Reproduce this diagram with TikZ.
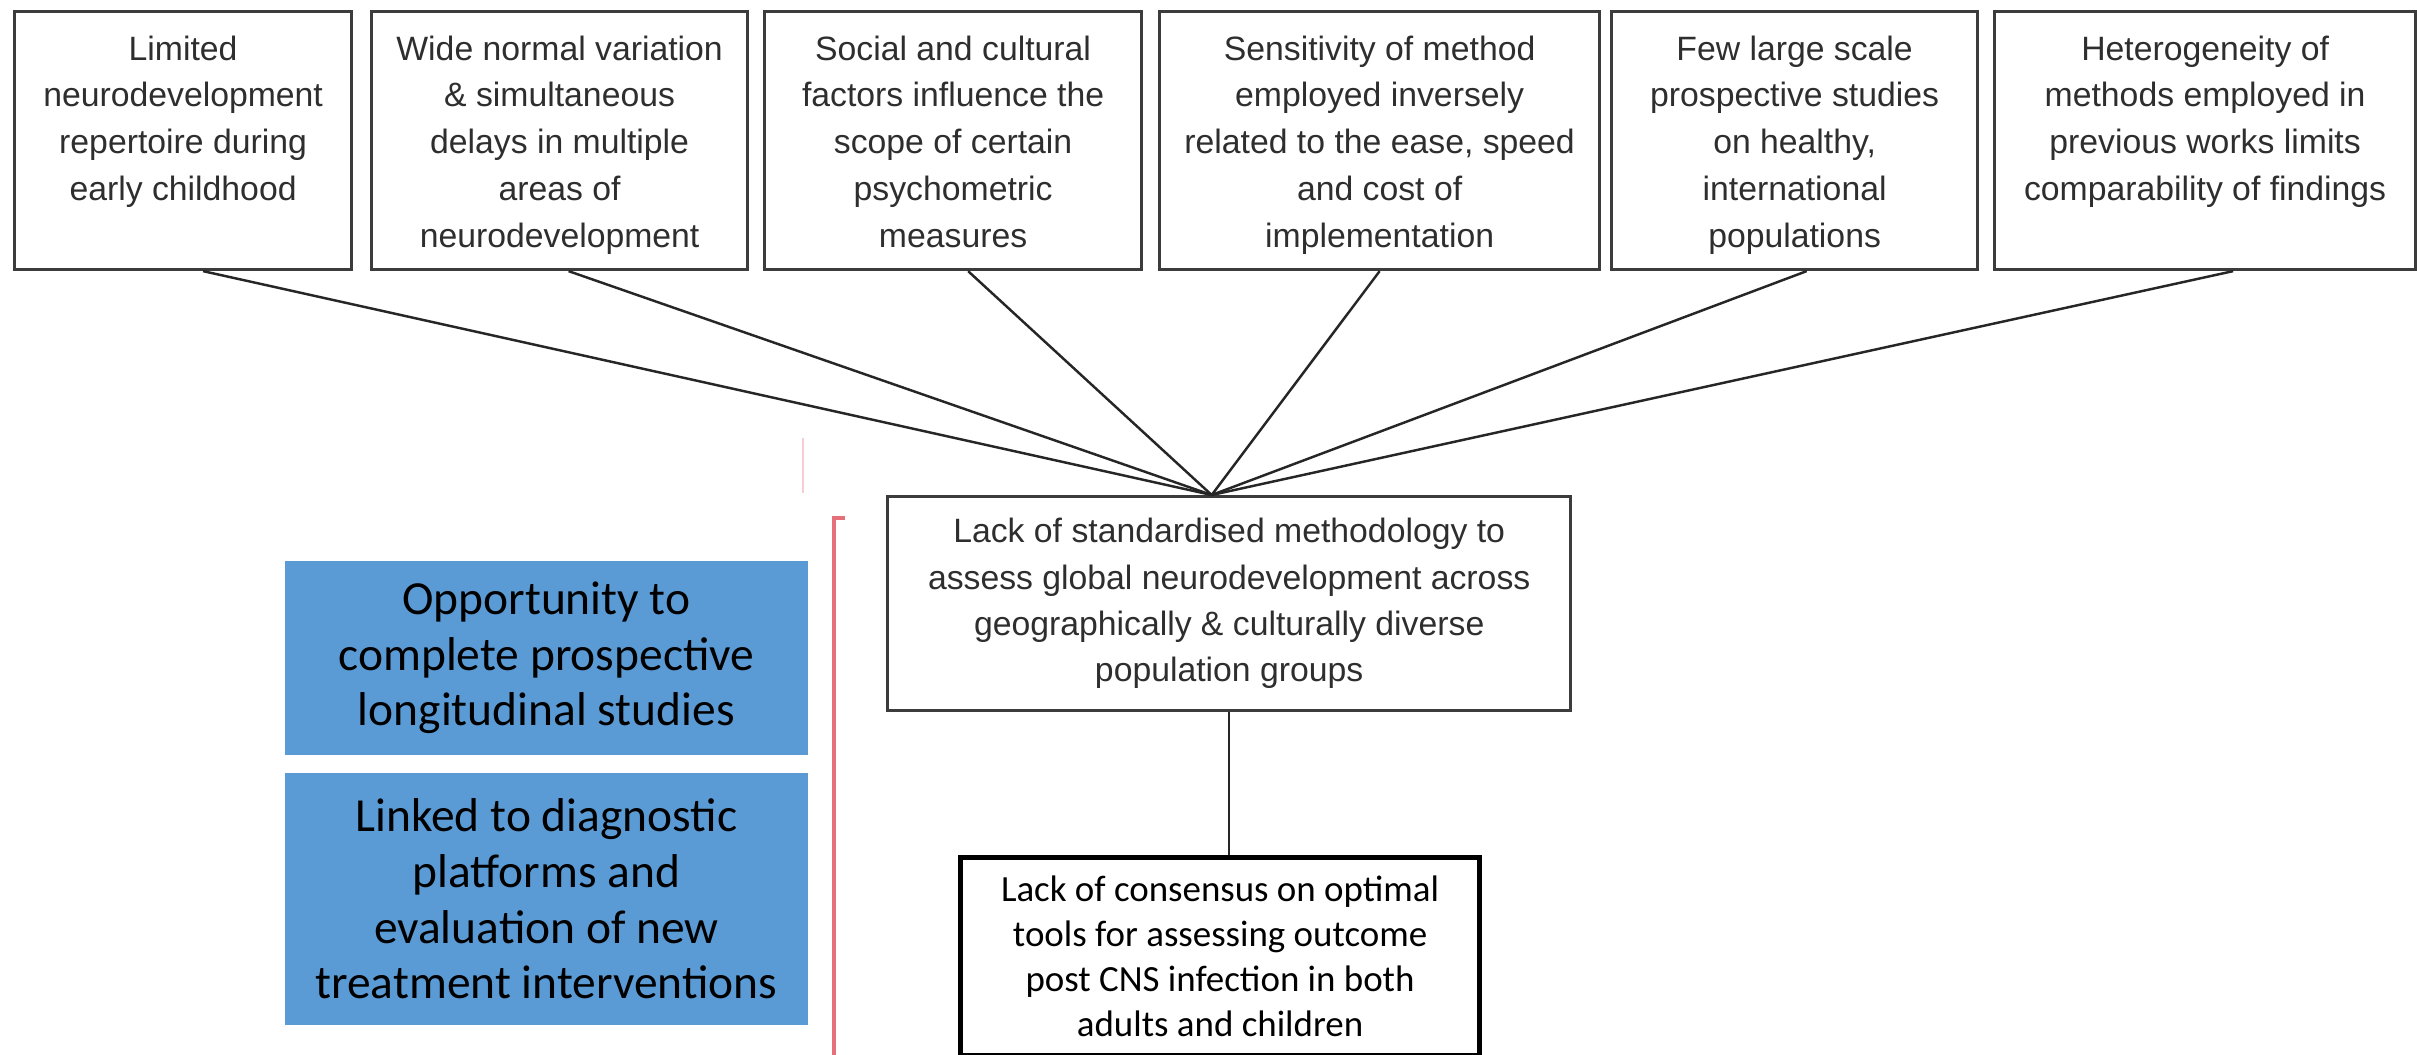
\documentclass[tikz,border=0pt]{standalone}
\usepackage{fontspec}
\setmainfont{Liberation Sans}
\newfontfamily\calibrilike{Carlito}
\definecolor{boxgray}{HTML}{3C3C3C}
\definecolor{txtgray}{HTML}{2E2E2E}
\definecolor{blueboxfill}{HTML}{5B9BD5}
\definecolor{bracketred}{RGB}{230,112,120}
\definecolor{faintred}{RGB}{246,205,210}
\begin{document}
\begin{tikzpicture}[x=0.01cm,y=-0.01cm,
  causebox/.style={draw=boxgray, line width=0.85pt, inner sep=0pt, anchor=north west,
    minimum height=2.58cm},
  causetext/.style={anchor=north, inner sep=0pt, align=center, text=txtgray,
    font=\fontsize{9.6}{13.3}\selectfont},
  midbox/.style={draw=boxgray, line width=0.85pt, inner sep=0pt, anchor=north west,
    align=center, text=txtgray, font=\fontsize{9.6}{13.2}\selectfont},
  outbox/.style={draw=black, line width=1.4pt, inner sep=0pt, anchor=north west,
    align=center, font=\calibrilike\fontsize{10.5}{12.8}\selectfont},
  bluebox/.style={fill=blueboxfill, inner sep=0pt, anchor=north west,
    align=center, font=\calibrilike\fontsize{13.5}{15.9}\selectfont},
  link/.style={draw=black!85, line width=0.7pt}]
\useasboundingbox (0,0) rectangle (2417,1055);

% row of contributing factors
\node[causebox, minimum width=3.37cm] (b1) at (13,10) {};
\node[causebox, minimum width=3.76cm] (b2) at (370,10) {};
\node[causebox, minimum width=3.77cm] (b3) at (763,10) {};
\node[causebox, minimum width=4.40cm] (b4) at (1158,10) {};
\node[causebox, minimum width=3.66cm] (b5) at (1610,10) {};
\node[causebox, minimum width=4.21cm] (b6) at (1993,10) {};

\node[causetext] (t1) at ([yshift=-0.25cm]b1.north) {Limited\\neurodevelopment\\repertoire during\\early childhood};
\node[causetext] (t2) at ([yshift=-0.25cm]b2.north) {Wide normal variation\\\& simultaneous\\delays in multiple\\areas of\\neurodevelopment};
\node[causetext] (t3) at ([yshift=-0.25cm]b3.north) {Social and cultural\\factors influence the\\scope of certain\\psychometric\\measures};
\node[causetext] (t4) at ([yshift=-0.25cm]b4.north) {Sensitivity of method\\employed inversely\\related to the ease, speed\\and cost of\\implementation};
\node[causetext] (t5) at ([yshift=-0.25cm]b5.north) {Few large scale\\prospective studies\\on healthy,\\international\\populations};
\node[causetext] (t6) at ([yshift=-0.25cm]b6.north) {Heterogeneity of\\methods employed in\\previous works limits\\comparability of findings};

% central problem
\node[midbox, minimum width=6.83cm, minimum height=2.14cm] (mid) at (886,495)
  {Lack of standardised methodology to\\assess global neurodevelopment across\\geographically \& culturally diverse\\population groups};
\coordinate (hub) at ([xshift=-0.175cm]mid.north);

% outcome
\node[outbox, minimum width=5.19cm, minimum height=1.98cm] (out) at (958,855)
  {Lack of consensus on optimal\\tools for assessing outcome\\post CNS infection in both\\adults and children};

% opportunities
\node[bluebox, minimum width=5.23cm, minimum height=1.94cm] (op1) at (284,560)
  {Opportunity to\\complete prospective\\longitudinal studies};
\node[bluebox, minimum width=5.23cm, minimum height=2.52cm] (op2) at (284,772)
  {Linked to diagnostic\\platforms and\\evaluation of new\\treatment interventions};

% connectors
\draw[link] ([xshift=0.20cm]b1.south) -- (hub);
\draw[link] ([xshift=0.09cm]b2.south) -- (hub);
\draw[link] ([xshift=0.15cm]b3.south) -- (hub);
\draw[link] (b4.south) -- (hub);
\draw[link] ([xshift=0.12cm]b5.south) -- (hub);
\draw[link] ([xshift=0.28cm]b6.south) -- (hub);
\draw[link] (mid.south) -- (mid.south |- out.north);

% bracket
\coordinate (brtop) at (845,518);
\coordinate (brbot) at (834,1055);
\draw[bracketred, line width=0.9pt] (brtop) -- (834,518) -- (brbot);
\coordinate (tk1) at (803,438);
\coordinate (tk2) at (803,493);
\draw[faintred, line width=0.8pt] (tk1) -- (tk2);
\end{tikzpicture}
\end{document}
